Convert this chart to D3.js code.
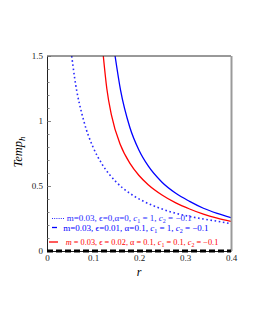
<!DOCTYPE html>
<html>
<head>
<meta charset="utf-8">
<script src="https://cdn.jsdelivr.net/npm/d3@7"></script>
<style>
  body { margin: 0; background: #fff; }
  svg { display: block; font-family: "Liberation Serif", "Times New Roman", serif; }
</style>
</head>
<body>
<svg id="chart" width="255" height="330"></svg>
<script>
'use strict';

// values
var rDotted = [0.0537, 0.06, 0.08, 0.10, 0.12, 0.15, 0.18, 0.21, 0.24, 0.27, 0.30, 0.34, 0.37, 0.40];
var tDotted = [1.5, 1.333, 1.0, 0.8, 0.667, 0.532, 0.444, 0.382, 0.336, 0.300, 0.273, 0.246, 0.229, 0.21];

var rBlue = [0.148, 0.16, 0.18, 0.20, 0.22, 0.25, 0.28, 0.31, 0.34, 0.37, 0.40];
var tBlue = [1.5, 1.235, 0.952, 0.775, 0.654, 0.529, 0.444, 0.382, 0.329, 0.289, 0.256];

var rRed = [0.1224, 0.13, 0.14, 0.16, 0.18, 0.20, 0.22, 0.25, 0.28, 0.31, 0.34, 0.37, 0.40];
var tRed = [1.5, 1.25, 1.047, 0.813, 0.676, 0.581, 0.510, 0.431, 0.370, 0.323, 0.283, 0.252, 0.227];

var rZero = [0, 0.4];
var tZero = [0, 0];

var xTicks = [0, 0.1, 0.2, 0.3, 0.4];
var yTicks = [0, 0.5, 1, 1.5];
var yMinorTicks = [0.1, 0.2, 0.3, 0.4, 0.6, 0.7, 0.8, 0.9, 1.1, 1.2, 1.3, 1.4];

var legendLabels = [
    [["m=0.03, \u03f5=0,\u03b1=0, ", ""], ["c", "i"], ["1", "sub"], [" = 1, ", ""], ["c", "i"], ["2", "sub"], [" = \u22120.1", ""]],
    [["m=0.03, \u03f5=0.01, \u03b1=0.1, ", ""], ["c", "i"], ["1", "sub"], [" = 1, ", ""], ["c", "i"], ["2", "sub"], [" = \u22120.1", ""]],
    [["m", "i"], [" = 0.03, \u03f5 = 0.02, \u03b1 = 0.1, ", ""], ["c", "i"], ["1", "sub"], [" = 0.1, ", ""], ["c", "i"], ["2", "sub"], [" = \u22120.1", ""]]
];

(function() {
    var svg = d3.select("#chart");
    var mLeft = 47, mRight = 231, mTop = 56, mBottom = 251;

    var x = d3.scaleLinear().domain([0, 0.4]).range([mLeft, mRight]);
    var y = d3.scaleLinear().domain([0, 1.5]).range([mBottom, mTop]);

    function zipPts(rs, ts) {
        return rs.map(function(r, i) { return [r, ts[i]]; });
    }

    var line = d3.line()
        .x(function(d) { return x(d[0]); })
        .y(function(d) { return y(d[1]); })
        .curve(d3.curveMonotoneX);

    svg.append("clipPath").attr("id", "clip")
        .append("rect")
        .attr("x", mLeft).attr("y", mTop - 1)
        .attr("width", mRight - mLeft).attr("height", mBottom - mTop + 2);

    var plot = svg.append("g").attr("clip-path", "url(#clip)");

    plot.append("path")
        .attr("d", line(zipPts(rDotted, tDotted)))
        .attr("fill", "none")
        .attr("stroke", "#2a2aff")
        .attr("stroke-width", 1.6)
        .attr("stroke-dasharray", "1.6,2.6");

    plot.append("path")
        .attr("d", line(zipPts(rRed, tRed)))
        .attr("fill", "none")
        .attr("stroke", "#ff0000")
        .attr("stroke-width", 1.3);

    plot.append("path")
        .attr("d", line(zipPts(rBlue, tBlue)))
        .attr("fill", "none")
        .attr("stroke", "#0000ff")
        .attr("stroke-width", 1.3);

    // frame: top dark, right grey
    svg.append("line")
        .attr("x1", mLeft).attr("x2", mRight)
        .attr("y1", mTop).attr("y2", mTop)
        .attr("stroke", "#333").attr("stroke-width", 1);
    svg.append("line")
        .attr("x1", mRight + 0.5).attr("x2", mRight + 0.5)
        .attr("y1", mTop).attr("y2", mBottom)
        .attr("stroke", "#9a9a9a").attr("stroke-width", 2);

    // left axis
    var yAxis = d3.axisLeft(y).tickValues(yTicks).tickSize(0).tickPadding(4)
        .tickFormat(function(d) { return d3.format("")(d); });
    var gy = svg.append("g").attr("transform", "translate(" + mLeft + ",0)").call(yAxis);
    gy.select(".domain").attr("stroke", "#222");
    gy.selectAll("text").attr("font-size", 9).attr("fill", "#222").attr("font-family", "Liberation Serif");

    svg.append("g").selectAll("line.minor")
        .data(yMinorTicks.concat(yTicks))
        .enter().append("line")
        .attr("x1", mLeft).attr("x2", function(d) { return yTicks.indexOf(d) >= 0 ? mLeft + 4 : mLeft + 2.5; })
        .attr("y1", function(d) { return y(d) + 0.5; })
        .attr("y2", function(d) { return y(d) + 0.5; })
        .attr("stroke", "#666").attr("stroke-width", 0.8);

    // bottom axis
    var xAxis = d3.axisBottom(x).tickValues(xTicks).tickSize(0).tickPadding(4)
        .tickFormat(function(d) { return d3.format("")(d); });
    var gx = svg.append("g").attr("transform", "translate(0," + mBottom + ")").call(xAxis);
    gx.select(".domain").attr("stroke", "#222");
    gx.selectAll("text").attr("font-size", 9).attr("fill", "#222").attr("font-family", "Liberation Serif");

    // zero curve, black dashed and thick
    svg.append("path")
        .attr("d", line(zipPts(rZero, tZero)))
        .attr("fill", "none")
        .attr("stroke", "#000")
        .attr("stroke-width", 3)
        .attr("stroke-dasharray", "6,3");

    // axis titles
    svg.append("text")
        .attr("x", x(0.2)).attr("y", 276)
        .attr("text-anchor", "middle")
        .attr("font-size", 12).attr("font-style", "italic")
        .text("r");

    var yTitle = svg.append("text")
        .attr("transform", "translate(22," + 152 + ") rotate(-90)")
        .attr("text-anchor", "middle")
        .attr("font-size", 12.5).attr("font-style", "italic");
    yTitle.append("tspan").text("Temp");
    yTitle.append("tspan").attr("font-size", 9).attr("dy", 3).text("h");

    // legend
    var legendY = [221, 230.5, 245];
    var legendX = [66.7, 63.3, 65.7];
    var legendSize = [9, 9, 8.3];
    var legendColor = ["#2a2aff", "#0000ff", "#ff0000"];

    svg.append("line")
        .attr("x1", 52).attr("x2", 65).attr("y1", legendY[0] - 2.5).attr("y2", legendY[0] - 2.5)
        .attr("stroke", legendColor[0]).attr("stroke-width", 1).attr("stroke-dasharray", "1,1.2");
    svg.append("line")
        .attr("x1", 52).attr("x2", 57).attr("y1", legendY[1] - 3).attr("y2", legendY[1] - 3)
        .attr("stroke", legendColor[1]).attr("stroke-width", 1.3);
    svg.append("line")
        .attr("x1", 49).attr("x2", 58).attr("y1", legendY[2] - 3).attr("y2", legendY[2] - 3)
        .attr("stroke", legendColor[2]).attr("stroke-width", 1.3);

    legendLabels.forEach(function(parts, i) {
        var t = svg.append("text")
            .attr("x", legendX[i]).attr("y", legendY[i])
            .attr("font-size", legendSize[i])
            .attr("fill", legendColor[i]);
        var shifted = false;
        parts.forEach(function(p) {
            var s = t.append("tspan").text(p[0]);
            if (p[1] === "i") {
                s.attr("font-style", "italic");
            }
            if (p[1] === "sub") {
                s.attr("font-size", 6).attr("dy", 2);
                shifted = true;
            } else if (shifted) {
                s.attr("dy", -2);
                shifted = false;
            }
        });
    });
})();
</script>
</body>
</html>
